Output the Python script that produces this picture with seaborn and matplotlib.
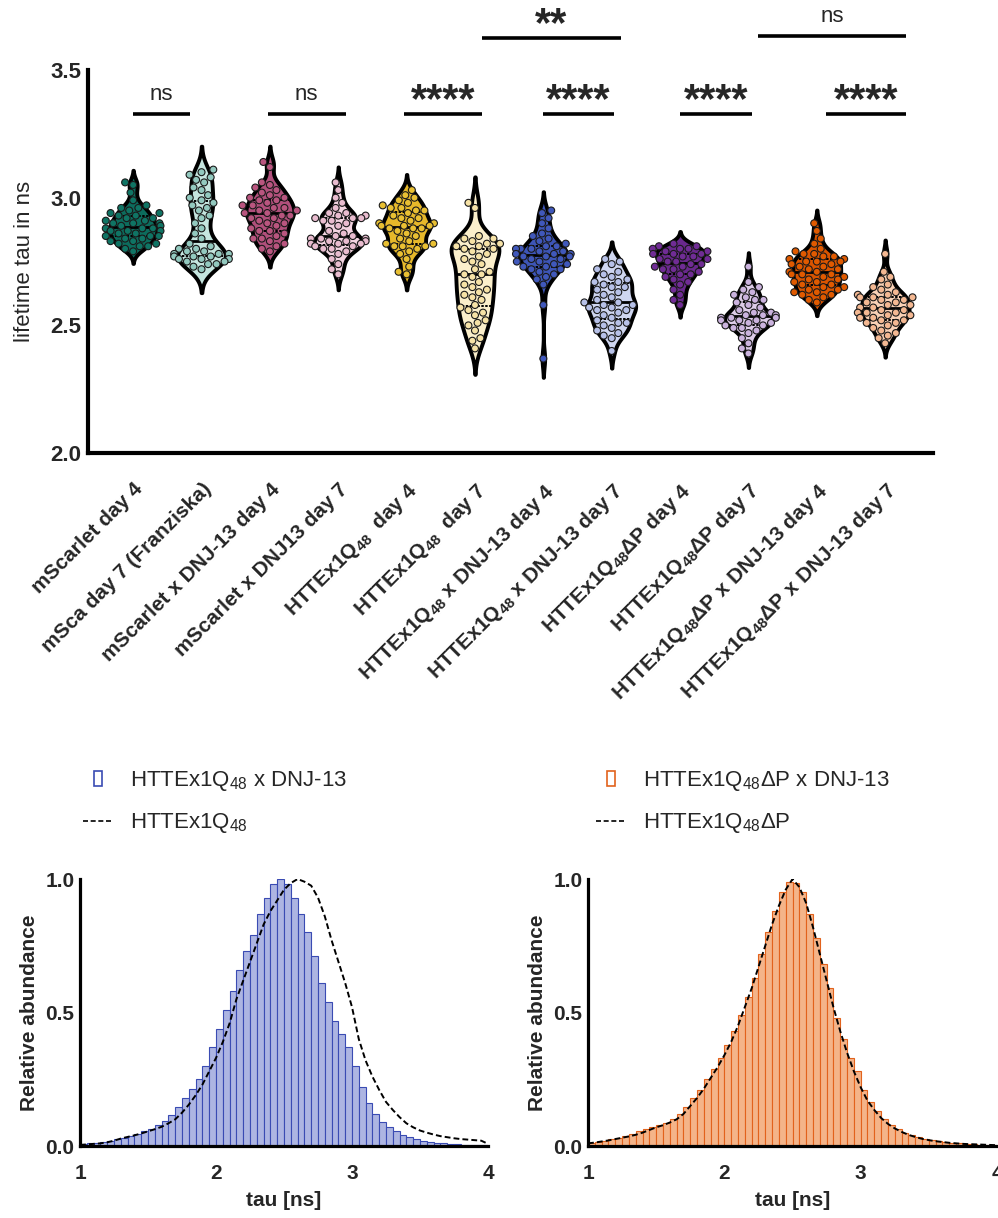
import numpy as np
import pandas as pd
import seaborn as sns
import matplotlib.pyplot as plt
import matplotlib.transforms as mtransforms
from matplotlib.patches import Rectangle
from matplotlib.lines import Line2D

# ---------------- violin data: lifetime tau (ns) ----------------
groups = ["g01", "g02", "g03", "g04", "g05", "g06", "g07", "g08", "g09", "g10", "g11", "g12"]
tick_labels = [
    "mScarlet day 4",
    "mSca day 7 (Franziska)",
    "mScarlet x DNJ-13 day 4",
    "mScarlet x DNJ13 day 7",
    r"HTTEx1Q$_{\mathbf{48}}$  day 4",
    r"HTTEx1Q$_{\mathbf{48}}$  day 7",
    r"HTTEx1Q$_{\mathbf{48}}$ x DNJ-13 day 4",
    r"HTTEx1Q$_{\mathbf{48}}$ x DNJ-13 day 7",
    r"HTTEx1Q$_{\mathbf{48}}$ΔP day 4",
    r"HTTEx1Q$_{\mathbf{48}}$ΔP day 7",
    r"HTTEx1Q$_{\mathbf{48}}$ΔP x DNJ-13 day 4",
    r"HTTEx1Q$_{\mathbf{48}}$ΔP x DNJ-13 day 7",
]

tau_mscarlet_d4 = [3.06, 3.05, 3.02, 2.99, 2.97, 2.96, 2.96, 2.95, 2.94, 2.94, 2.93, 2.93, 2.92, 2.92,
                   2.91, 2.91, 2.90, 2.90, 2.90, 2.89, 2.89, 2.88, 2.88, 2.88, 2.87, 2.87, 2.87, 2.86,
                   2.86, 2.85, 2.85, 2.85, 2.84, 2.84, 2.83, 2.83, 2.82, 2.82, 2.81, 2.81, 2.80, 2.79]
tau_msca_d7 = [3.11, 3.10, 3.09, 3.08, 3.07, 3.06, 3.04, 3.03, 3.01, 3.00, 2.99, 2.98, 2.97, 2.96,
               2.95, 2.93, 2.92, 2.90, 2.88, 2.86, 2.84, 2.82, 2.81, 2.80, 2.80, 2.79, 2.79, 2.78,
               2.78, 2.78, 2.77, 2.77, 2.77, 2.76, 2.76, 2.76, 2.75, 2.75, 2.74, 2.74, 2.73, 2.72]
tau_mscarlet_dnj_d4 = [3.14, 3.12, 3.06, 3.05, 3.04, 3.03, 3.02, 3.01, 3.00, 3.00, 2.99, 2.99, 2.98,
                       2.97, 2.97, 2.96, 2.96, 2.95, 2.95, 2.94, 2.94, 2.93, 2.93, 2.92, 2.92, 2.91,
                       2.90, 2.90, 2.89, 2.88, 2.87, 2.87, 2.86, 2.85, 2.84, 2.84, 2.83, 2.82, 2.81,
                       2.80, 2.79]
tau_mscarlet_dnj_d7 = [3.06, 3.03, 3.00, 2.98, 2.96, 2.94, 2.94, 2.93, 2.93, 2.92, 2.92, 2.92, 2.91,
                       2.91, 2.90, 2.89, 2.87, 2.86, 2.85, 2.85, 2.84, 2.84, 2.84, 2.83, 2.83, 2.83,
                       2.82, 2.82, 2.82, 2.81, 2.81, 2.80, 2.80, 2.79, 2.78, 2.76, 2.74, 2.72, 2.70]
tau_q48_d4 = [3.03, 3.01, 3.00, 2.99, 2.98, 2.97, 2.96, 2.96, 2.95, 2.95, 2.94, 2.93, 2.92, 2.92,
              2.91, 2.90, 2.90, 2.89, 2.89, 2.89, 2.88, 2.88, 2.88, 2.87, 2.86, 2.85, 2.84, 2.83,
              2.82, 2.82, 2.81, 2.81, 2.81, 2.80, 2.79, 2.78, 2.76, 2.73, 2.71, 2.70]
tau_q48_d7 = [2.98, 2.96, 2.85, 2.84, 2.84, 2.83, 2.82, 2.82, 2.81, 2.81, 2.80, 2.80, 2.79, 2.78,
              2.77, 2.76, 2.75, 2.74, 2.72, 2.71, 2.70, 2.70, 2.69, 2.67, 2.66, 2.65, 2.64, 2.63,
              2.62, 2.61, 2.60, 2.58, 2.57, 2.56, 2.55, 2.54, 2.52, 2.51, 2.50, 2.48, 2.45, 2.44, 2.41]
tau_q48_dnj_d4 = [2.95, 2.94, 2.92, 2.90, 2.88, 2.86, 2.85, 2.84, 2.83, 2.82, 2.81, 2.81, 2.80, 2.80,
                  2.80, 2.79, 2.79, 2.78, 2.78, 2.78, 2.77, 2.77, 2.77, 2.76, 2.76, 2.75, 2.75, 2.74,
                  2.74, 2.73, 2.73, 2.72, 2.72, 2.71, 2.70, 2.69, 2.68, 2.66, 2.58, 2.37]
tau_q48_dnj_d7 = [2.76, 2.75, 2.74, 2.72, 2.71, 2.70, 2.69, 2.68, 2.67, 2.67, 2.66, 2.65, 2.65, 2.64,
                  2.63, 2.62, 2.61, 2.60, 2.59, 2.59, 2.58, 2.58, 2.57, 2.57, 2.56, 2.56, 2.55, 2.54,
                  2.53, 2.52, 2.51, 2.51, 2.50, 2.49, 2.48, 2.47, 2.46, 2.45, 2.40]
tau_q48dp_d4 = [2.82, 2.81, 2.81, 2.80, 2.80, 2.80, 2.79, 2.79, 2.78, 2.78, 2.78, 2.77, 2.77, 2.76,
                2.76, 2.75, 2.75, 2.74, 2.74, 2.73, 2.73, 2.72, 2.72, 2.71, 2.70, 2.70, 2.69, 2.68,
                2.67, 2.66, 2.64, 2.62, 2.60, 2.58]
tau_q48dp_d7 = [2.73, 2.67, 2.65, 2.64, 2.63, 2.62, 2.61, 2.60, 2.60, 2.59, 2.58, 2.57, 2.56, 2.55,
                2.55, 2.54, 2.54, 2.54, 2.53, 2.53, 2.53, 2.52, 2.52, 2.52, 2.51, 2.51, 2.50, 2.50,
                2.49, 2.49, 2.48, 2.47, 2.45, 2.43, 2.41, 2.39]
tau_q48dp_dnj_d4 = [2.90, 2.87, 2.84, 2.82, 2.80, 2.79, 2.78, 2.78, 2.77, 2.77, 2.76, 2.76, 2.75, 2.75,
                    2.75, 2.74, 2.74, 2.73, 2.73, 2.72, 2.72, 2.71, 2.71, 2.70, 2.70, 2.70, 2.69, 2.69,
                    2.68, 2.68, 2.67, 2.67, 2.66, 2.66, 2.65, 2.65, 2.64, 2.64, 2.63, 2.63, 2.62, 2.62,
                    2.61, 2.60, 2.59]
tau_q48dp_dnj_d7 = [2.78, 2.71, 2.69, 2.68, 2.66, 2.65, 2.64, 2.63, 2.62, 2.62, 2.61, 2.61, 2.61, 2.60,
                    2.60, 2.59, 2.59, 2.58, 2.58, 2.57, 2.57, 2.56, 2.56, 2.55, 2.55, 2.55, 2.54, 2.54,
                    2.53, 2.53, 2.52, 2.52, 2.51, 2.51, 2.50, 2.49, 2.48, 2.47, 2.46, 2.45, 2.43]

violin_fill = ["#0c6c5d", "#c5e5df", "#b04f7b", "#f3d4e1", "#e6b82a", "#fbefcb",
               "#3d55b7", "#cfd6f0", "#69288d", "#ddcce8", "#d95400", "#f9d1b6"]
point_fill = ["#0f7464", "#93c9bf", "#b9557f", "#e9bccf", "#e9c033", "#f6e2a6",
              "#4058bb", "#b7c1e8", "#702c95", "#cbb3de", "#e05a00", "#f4b892"]

# ---------------- histogram data: relative abundance per 0.05 ns bin ----------------
bin_centers = np.round(np.arange(1.025, 4.0, 0.05), 3)
curve_tau = np.round(np.arange(1.0, 4.0001, 0.05), 3)

hist_q48_dnj = [0.008, 0.010, 0.013, 0.016, 0.020, 0.025, 0.031, 0.038, 0.046, 0.055,
                0.065, 0.077, 0.092, 0.115, 0.145, 0.180, 0.215, 0.250, 0.300, 0.370,
                0.440, 0.510, 0.580, 0.660, 0.730, 0.790, 0.870, 0.930, 0.980, 1.000,
                0.980, 0.930, 0.870, 0.800, 0.710, 0.610, 0.540, 0.470, 0.420, 0.370,
                0.300, 0.220, 0.160, 0.120, 0.090, 0.070, 0.055, 0.042, 0.033, 0.026,
                0.020, 0.016, 0.013, 0.010, 0.008, 0.006, 0.005, 0.004, 0.003, 0.002]
curve_q48 = [0.004, 0.006, 0.008, 0.010, 0.014, 0.020, 0.028, 0.034, 0.040, 0.047,
             0.055, 0.063, 0.072, 0.085, 0.100, 0.125, 0.155, 0.190, 0.230, 0.280,
             0.330, 0.390, 0.460, 0.550, 0.620, 0.690, 0.760, 0.830, 0.880, 0.920,
             0.960, 0.985, 1.000, 0.990, 0.975, 0.930, 0.860, 0.770, 0.690, 0.610,
             0.520, 0.400, 0.320, 0.260, 0.210, 0.165, 0.135, 0.108, 0.085, 0.070,
             0.058, 0.050, 0.043, 0.037, 0.033, 0.029, 0.026, 0.024, 0.022, 0.020, 0.008]
hist_q48dp_dnj = [0.012, 0.015, 0.020, 0.025, 0.031, 0.038, 0.045, 0.055, 0.063, 0.072,
                  0.080, 0.088, 0.100, 0.120, 0.145, 0.180, 0.210, 0.250, 0.290, 0.330,
                  0.380, 0.430, 0.490, 0.560, 0.630, 0.720, 0.800, 0.880, 0.950, 0.990,
                  0.985, 0.950, 0.870, 0.780, 0.680, 0.590, 0.480, 0.400, 0.330, 0.280,
                  0.210, 0.165, 0.130, 0.100, 0.080, 0.062, 0.050, 0.040, 0.034, 0.028,
                  0.023, 0.019, 0.016, 0.013, 0.011, 0.009, 0.007, 0.005, 0.004, 0.003]
curve_q48dp = [0.010, 0.013, 0.017, 0.021, 0.026, 0.031, 0.036, 0.042, 0.050, 0.060,
               0.070, 0.078, 0.088, 0.100, 0.120, 0.150, 0.180, 0.215, 0.255, 0.295,
               0.340, 0.390, 0.450, 0.520, 0.590, 0.670, 0.750, 0.830, 0.900, 0.960,
               1.000, 0.970, 0.910, 0.820, 0.720, 0.620, 0.520, 0.430, 0.350, 0.280,
               0.220, 0.170, 0.135, 0.105, 0.083, 0.066, 0.053, 0.042, 0.034, 0.027,
               0.022, 0.018, 0.015, 0.012, 0.010, 0.008, 0.007, 0.006, 0.005, 0.004, 0.003]

# ---------------- style ----------------
sns.set_style("white")
plt.rcParams["font.family"] = ["Liberation Sans", "DejaVu Sans"]
plt.rcParams["mathtext.fontset"] = "custom"
plt.rcParams["mathtext.rm"] = "Liberation Sans"
plt.rcParams["mathtext.it"] = "Liberation Sans:italic"
plt.rcParams["mathtext.bf"] = "Liberation Sans:bold"

fig = plt.figure(figsize=(9.98, 12.18), dpi=100)

# ---------------- top: violins ----------------
all_tau = [tau_mscarlet_d4, tau_msca_d7, tau_mscarlet_dnj_d4, tau_mscarlet_dnj_d7,
           tau_q48_d4, tau_q48_d7, tau_q48_dnj_d4, tau_q48_dnj_d7,
           tau_q48dp_d4, tau_q48dp_d7, tau_q48dp_dnj_d4, tau_q48dp_dnj_d7]
df = pd.concat([pd.DataFrame({"group": g, "tau": v}) for g, v in zip(groups, all_tau)],
               ignore_index=True)

ax = fig.add_axes([0.0882, 0.628, 0.8467, 0.3145])
sns.violinplot(data=df, x="group", y="tau", hue="group", order=groups, hue_order=groups,
               palette=violin_fill, saturation=1, inner="quart", density_norm="width",
               width=0.7, bw_adjust=0.7, cut=2.2, linewidth=2.8, linecolor="black",
               inner_kws=dict(linewidth=1.4, color="black"), legend=False, ax=ax)
for i, ln in enumerate(ax.lines):
    if i % 3 == 1:
        ln.set_linestyle("-")
        ln.set_linewidth(2.0)
sns.swarmplot(data=df, x="group", y="tau", hue="group", order=groups, hue_order=groups,
              palette=point_fill, size=5.0, edgecolor="#1a1a1a", linewidth=0.8,
              legend=False, ax=ax, warn_thresh=1)

ax.set_xlim(-0.66, 11.7)
ax.set_ylim(2.0, 3.5)
ax.set_yticks([2.0, 2.5, 3.0, 3.5])
ax.set_yticklabels(["2.0", "2.5", "3.0", "3.5"], fontsize=16, fontweight="bold")
ax.set_xticks(range(len(groups)))
ax.set_xticklabels(tick_labels, rotation=45, ha="right", rotation_mode="anchor",
                   fontsize=15, fontweight="bold")
shift = mtransforms.ScaledTranslation(-0.07, 0, fig.dpi_scale_trans)
for lab in ax.get_xticklabels():
    lab.set_transform(lab.get_transform() + shift)
ax.tick_params(axis="y", length=0, pad=5)
ax.tick_params(axis="x", length=0, pad=19)
ax.set_xlabel("")
ax.set_ylabel("lifetime tau in ns", fontsize=16)
ax.yaxis.set_label_coords(-0.063, 0.5)
for s in ["top", "right"]:
    ax.spines[s].set_visible(False)
for s in ["left", "bottom"]:
    ax.spines[s].set_linewidth(3)
    ax.spines[s].set_color("black")

# significance bars
sig = [(0.0, 0.83, 3.326, "ns"), (1.97, 3.11, 3.326, "ns"), (3.96, 5.10, 3.326, "****"),
       (5.99, 7.03, 3.326, "****"), (8.00, 9.05, 3.326, "****"), (10.13, 11.30, 3.326, "****"),
       (5.10, 7.13, 3.625, "**"), (9.14, 11.30, 3.633, "ns")]
for x1, x2, y, txt in sig:
    ax.plot([x1, x2], [y, y], color="black", lw=2.6, solid_capstyle="butt", clip_on=False)
    xm = (x1 + x2) / 2
    if txt == "ns":
        ax.text(xm, y + 0.055, txt, ha="center", va="baseline", fontsize=16, clip_on=False)
    else:
        ax.text(xm, y + 0.008, txt, ha="center", va="baseline", fontsize=30,
                fontweight="bold", clip_on=False)

# ---------------- bottom: histograms ----------------
def draw_hist(axh, heights, curve, edge, face):
    hdf = pd.DataFrame({"tau": bin_centers, "h": heights})
    sns.histplot(data=hdf, x="tau", weights="h", binwidth=0.05, binrange=(1.0, 4.0), ax=axh,
                 color=face, edgecolor=edge, linewidth=0.8, alpha=1)
    cdf = pd.DataFrame({"tau": curve_tau, "h": curve})
    sns.lineplot(data=cdf, x="tau", y="h", ax=axh, color="black", linewidth=1.4,
                 linestyle=(0, (3, 1.6)))
    axh.set_xlim(1, 4)
    axh.set_ylim(0, 1.0)
    axh.set_xticks([1, 2, 3, 4])
    axh.set_xticklabels(["1", "2", "3", "4"], fontsize=15, fontweight="bold")
    axh.set_yticks([0, 0.5, 1.0])
    axh.set_yticklabels(["0.0", "0.5", "1.0"], fontsize=15, fontweight="bold")
    axh.tick_params(axis="x", length=7, width=2, pad=6)
    axh.tick_params(axis="y", length=0, pad=4)
    axh.set_xlabel("tau [ns]", fontsize=15, fontweight="bold")
    axh.set_ylabel("Relative abundance", fontsize=15, fontweight="bold")
    axh.xaxis.set_label_coords(0.5, -0.17)
    axh.yaxis.set_label_coords(-0.10, 0.5)
    for s in ["top", "right"]:
        axh.spines[s].set_visible(False)
    for s in ["left", "bottom"]:
        axh.spines[s].set_linewidth(2.3)
        axh.spines[s].set_color("black")

ax_l = fig.add_axes([0.0802, 0.0591, 0.4088, 0.2192])
draw_hist(ax_l, hist_q48_dnj, curve_q48, "#3a4bb3", "#adb5e2")
ax_r = fig.add_axes([0.5892, 0.0591, 0.4098, 0.2192])
draw_hist(ax_r, hist_q48dp_dnj, curve_q48dp, "#e2621c", "#f4b489")

# legends drawn in figure pixels
W, H = 998.0, 1218.0
def fx(px):
    return px / W
def fy(py):
    return 1 - py / H

for x_rect, x_line, x_text, color, lab1, lab2 in [
        (94, 83, 130, "#3a4bb3", r"HTTEx1Q$_{\mathrm{48}}$ x DNJ-13", r"HTTEx1Q$_{\mathrm{48}}$"),
        (607, 596, 643, "#e2621c", r"HTTEx1Q$_{\mathrm{48}}$ΔP x DNJ-13", r"HTTEx1Q$_{\mathrm{48}}$ΔP")]:
    fig.add_artist(Rectangle((fx(x_rect), fy(786)), 8 / W, 15 / H, transform=fig.transFigure,
                             facecolor="white", edgecolor=color, linewidth=1.2))
    fig.add_artist(Line2D([fx(x_line), fx(x_line + 30)], [fy(821), fy(821)],
                          transform=fig.transFigure, color="black", linewidth=1.2,
                          linestyle=(0, (3, 1.6))))
    fig.text(fx(x_text), fy(786), lab1, fontsize=16, va="baseline", ha="left")
    fig.text(fx(x_text), fy(828), lab2, fontsize=16, va="baseline", ha="left")

fig.savefig("out.png", dpi=100)
